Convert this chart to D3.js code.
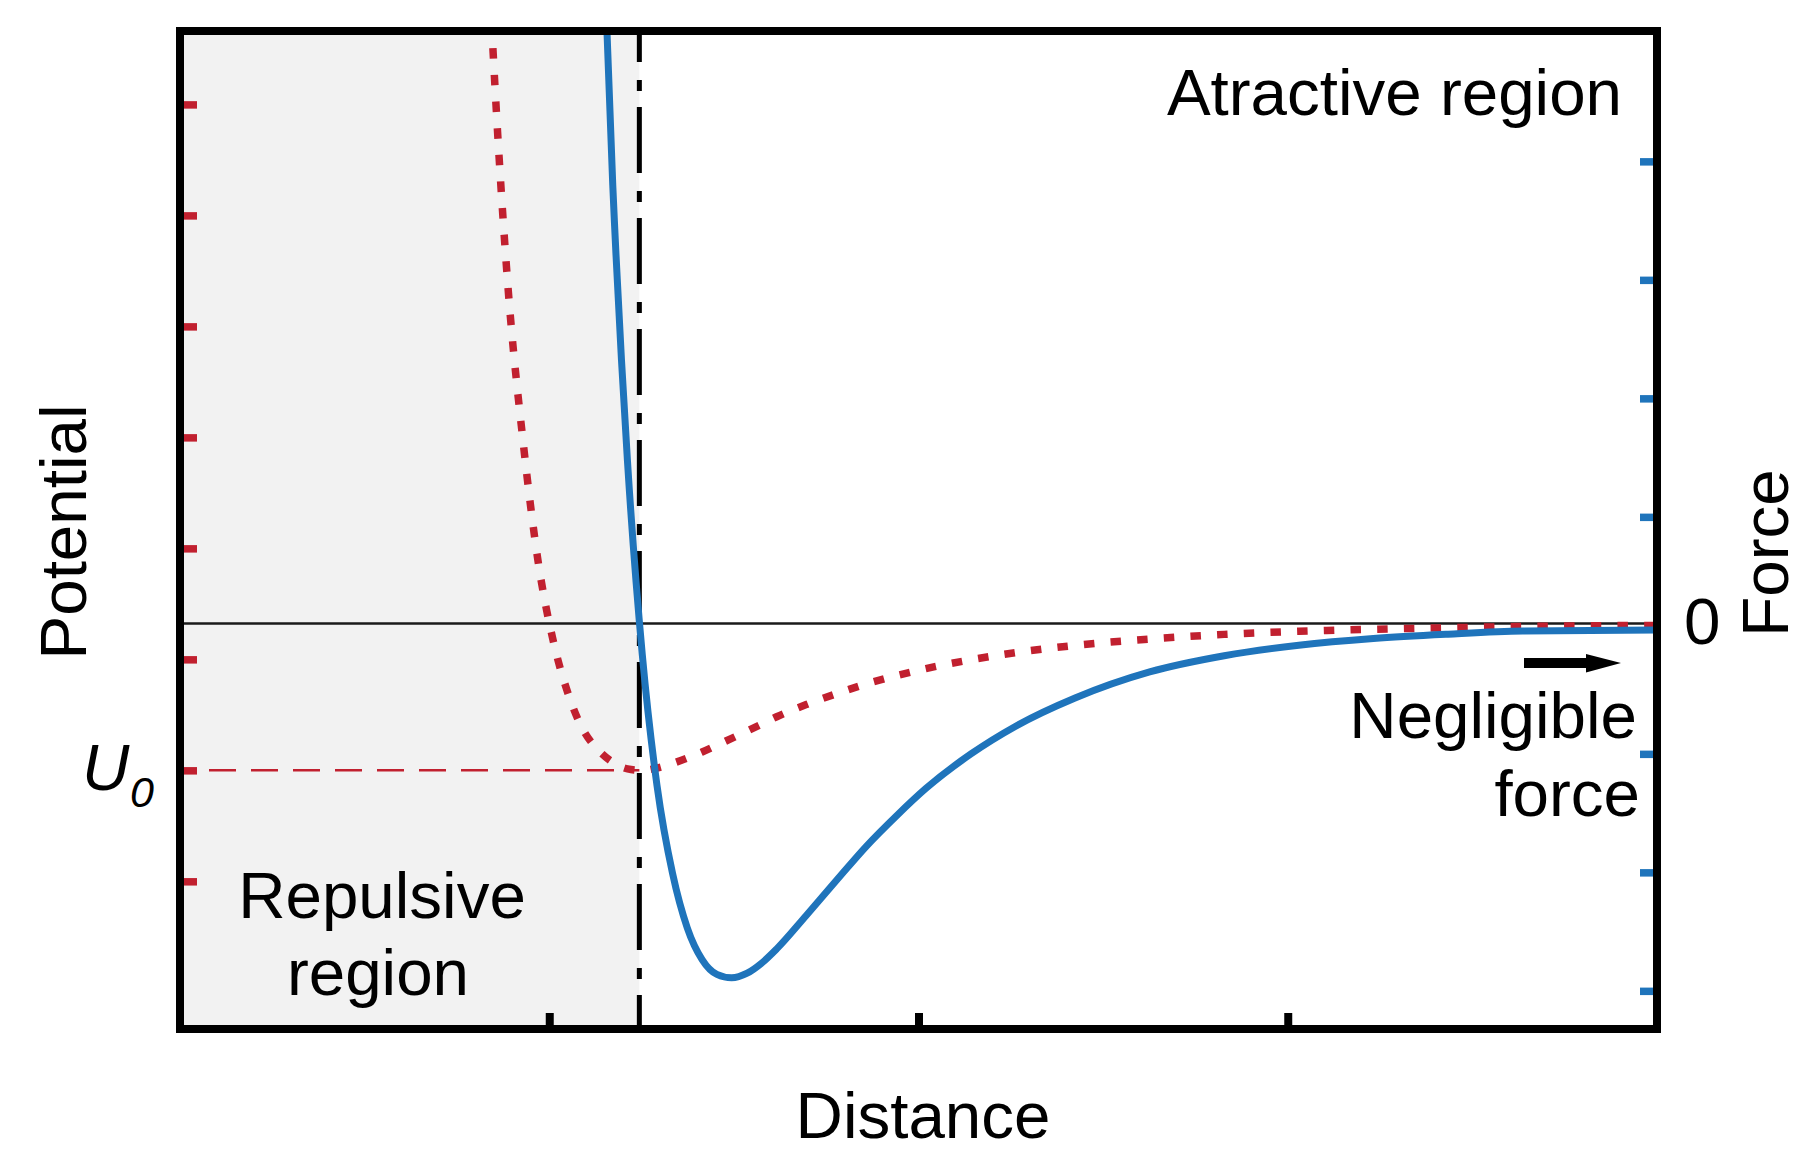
<!DOCTYPE html>
<html lang="en">
<head>
    <meta charset="UTF-8">
    <title>Potential and force vs distance</title>
    <script src="https://d3js.org/d3.v7.min.js"></script>
    <style>
        body {
            margin: 0;
            background: #fff;
        }

        svg text {
            font-family: "Liberation Sans", Arial, Helvetica, sans-serif;
            font-size: 65.5px;
            fill: #000;
        }
    </style>
</head>
<body>
    <div id="chart"></div>
    <script>
        // distance in units of sigma, potential in units of well depth (U0 = -1)
        const potentialDist = [0.904, 0.924, 0.944, 0.965, 0.985, 1.005, 1.025, 1.045, 1.066, 1.086,
            1.106, 1.126, 1.146, 1.167, 1.187, 1.207, 1.227, 1.247, 1.268, 1.288, 1.308,
            1.348, 1.389, 1.429, 1.470, 1.510, 1.571, 1.631, 1.712, 1.813, 1.914, 2.015,
            2.116, 2.217, 2.318, 2.5];
        const potentialVals = [6.10, 3.89, 2.30, 1.22, 0.42, -0.11, -0.47, -0.716, -0.86, -0.945,
            -0.99, -1.0, -0.984, -0.953, -0.916, -0.875, -0.829, -0.782, -0.732, -0.684, -0.635,
            -0.552, -0.478, -0.412, -0.355, -0.307, -0.247, -0.199, -0.149, -0.106, -0.074, -0.053,
            -0.039, -0.029, -0.020, -0.013];

        const forceDist = [1.066, 1.086, 1.106, 1.126, 1.146, 1.167, 1.187, 1.207, 1.227, 1.247,
            1.268, 1.288, 1.308, 1.348, 1.389, 1.429, 1.470, 1.510, 1.571, 1.631, 1.712,
            1.813, 1.914, 2.015, 2.116, 2.217, 2.318, 2.5];
        const forceVals = [7.01, 3.70, 1.363, -0.264, -1.371, -2.110, -2.570, -2.836, -2.961, -2.990,
            -2.951, -2.864, -2.746, -2.464, -2.167, -1.882, -1.624, -1.392, -1.101, -0.869, -0.629,
            -0.409, -0.272, -0.183, -0.126, -0.090, -0.064, -0.055];

        const distTicks = [1, 1.5, 2];
        const potentialTicks = [-1.756, -1, -0.244, 0.512, 1.268, 2.024, 2.780, 3.536];
        const forceTicks = [-3.1, -2.1, -1.1, 0.9, 1.9, 2.9, 3.9];
        const r0 = 1.122;   // potential minimum
        const U0 = -1;

        const W = 1802, H = 1152;
        const box = { left: 180, right: 1657, top: 31, bottom: 1029 };

        const red = "#c1202f";
        const blue = "#1f74bb";

        const svg = d3.select("#chart")
            .append("svg")
            .attr("width", W)
            .attr("height", H);

        const x = d3.scaleLinear().domain([0.5, 2.5]).range([box.left, box.right]);
        const yU = d3.scaleLinear().domain([-2.762, 4.036]).range([box.bottom, box.top]);
        const yF = d3.scaleLinear().domain([-3.422, 5.0]).range([box.bottom, box.top]);

        svg.append("defs").append("clipPath")
            .attr("id", "plot-clip")
            .append("rect")
            .attr("x", box.left)
            .attr("y", box.top)
            .attr("width", box.right - box.left)
            .attr("height", box.bottom - box.top);

        // repulsive region shading
        svg.append("rect")
            .attr("x", box.left)
            .attr("y", box.top)
            .attr("width", x(r0) - box.left)
            .attr("height", box.bottom - box.top)
            .attr("fill", "#f2f2f2");

        // zero line
        svg.append("line")
            .attr("x1", box.left).attr("x2", box.right)
            .attr("y1", yU(0)).attr("y2", yU(0))
            .attr("stroke", "#1a1a1a")
            .attr("stroke-width", 2.5);

        // U0 level
        svg.append("line")
            .attr("x1", box.left).attr("x2", x(r0))
            .attr("y1", yU(U0)).attr("y2", yU(U0))
            .attr("stroke", red)
            .attr("stroke-width", 2.5)
            .attr("stroke-dasharray", "27 15")
            .attr("stroke-dashoffset", 13);

        // r0 dash-dot line
        svg.append("line")
            .attr("x1", x(r0)).attr("x2", x(r0))
            .attr("y1", box.top).attr("y2", box.bottom)
            .attr("stroke", "#000")
            .attr("stroke-width", 5)
            .attr("stroke-dasharray", "66 18 11 16")
            .attr("stroke-dashoffset", 35);

        const curves = svg.append("g").attr("clip-path", "url(#plot-clip)");

        const potLine = d3.line()
            .x((d, i) => x(potentialDist[i]))
            .y(d => yU(d))
            .curve(d3.curveMonotoneX);

        const forceLine = d3.line()
            .x((d, i) => x(forceDist[i]))
            .y(d => yF(d))
            .curve(d3.curveMonotoneX);

        curves.append("path")
            .datum(potentialVals)
            .attr("fill", "none")
            .attr("stroke", red)
            .attr("stroke-width", 7.5)
            .attr("stroke-dasharray", "10.5 16.2")
            .attr("d", potLine);

        curves.append("path")
            .datum(forceVals)
            .attr("fill", "none")
            .attr("stroke", blue)
            .attr("stroke-width", 7)
            .attr("stroke-linejoin", "round")
            .attr("d", forceLine);

        // ticks
        const leftAxis = svg.append("g")
            .attr("transform", `translate(${box.left},0)`)
            .call(d3.axisLeft(yU).tickValues(potentialTicks).tickSize(-17).tickFormat(""));
        leftAxis.select(".domain").remove();
        leftAxis.selectAll(".tick line").attr("stroke", red).attr("stroke-width", 7.5);

        const rightAxis = svg.append("g")
            .attr("transform", `translate(${box.right},0)`)
            .call(d3.axisRight(yF).tickValues(forceTicks).tickSize(-17).tickFormat(""));
        rightAxis.select(".domain").remove();
        rightAxis.selectAll(".tick line").attr("stroke", blue).attr("stroke-width", 7.5);

        const bottomAxis = svg.append("g")
            .attr("transform", `translate(0,${box.bottom})`)
            .call(d3.axisBottom(x).tickValues(distTicks).tickSize(-16).tickFormat(""));
        bottomAxis.select(".domain").remove();
        bottomAxis.selectAll(".tick line").attr("stroke", "#000").attr("stroke-width", 8);

        // frame
        svg.append("rect")
            .attr("x", box.left)
            .attr("y", box.top)
            .attr("width", box.right - box.left)
            .attr("height", box.bottom - box.top)
            .attr("fill", "none")
            .attr("stroke", "#000")
            .attr("stroke-width", 8);

        // arrow towards negligible force
        const arrow = d3.path();
        arrow.moveTo(1524, 658);
        arrow.lineTo(1586, 658);
        arrow.lineTo(1586, 654);
        arrow.lineTo(1621, 663);
        arrow.lineTo(1586, 672.5);
        arrow.lineTo(1586, 668);
        arrow.lineTo(1524, 668);
        arrow.closePath();
        svg.append("path").attr("d", arrow.toString()).attr("fill", "#000");

        // labels
        svg.append("text").attr("x", 1622).attr("y", 115).attr("text-anchor", "end").text("Atractive region");
        svg.append("text").attr("x", 382).attr("y", 918).attr("text-anchor", "middle").text("Repulsive");
        svg.append("text").attr("x", 378).attr("y", 995).attr("text-anchor", "middle").text("region");
        svg.append("text").attr("x", 1637).attr("y", 738).attr("text-anchor", "end").text("Negligible");
        svg.append("text").attr("x", 1640).attr("y", 816).attr("text-anchor", "end").text("force");
        svg.append("text").attr("x", 1684).attr("y", yF(0) + 21).text("0");
        svg.append("text").attr("x", 923).attr("y", 1138).attr("text-anchor", "middle").text("Distance");

        svg.append("text")
            .attr("transform", "translate(86,532) rotate(-90)")
            .attr("text-anchor", "middle")
            .text("Potential");
        svg.append("text")
            .attr("transform", "translate(1788,553) rotate(-90)")
            .attr("text-anchor", "middle")
            .text("Force");

        svg.append("text")
            .attr("x", 82).attr("y", yU(U0) + 20)
            .style("font-style", "italic")
            .text("U");
        svg.append("text")
            .attr("x", 130).attr("y", yU(U0) + 37)
            .style("font-style", "italic")
            .style("font-size", "43px")
            .text("0");
    </script>
</body>
</html>
